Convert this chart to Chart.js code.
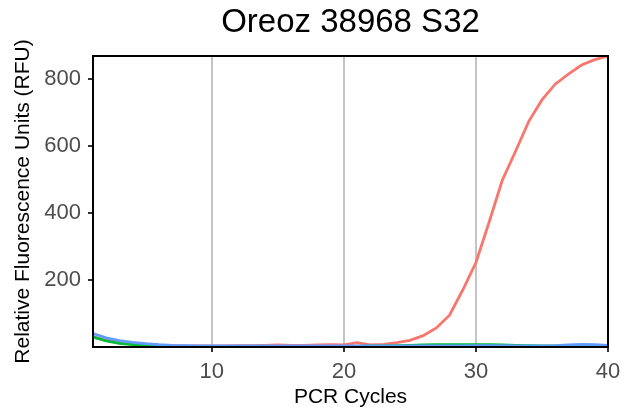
<!DOCTYPE html>
<html lang="en">
<head>
    <meta charset="UTF-8">
    <title>Oreoz 38968 S32</title>
    <style>
        body { margin: 0; background: #fff; }
    </style>
</head>
<body>
    <canvas id="pcrCanvas" width="632" height="416"></canvas>

    <script src="https://cdn.jsdelivr.net/npm/chart.js"></script>
    <script>
        var cycles = [1, 2, 3, 4, 5, 6, 7, 8, 9, 10, 11, 12, 13, 14, 15, 16, 17, 18, 19, 20,
                      21, 22, 23, 24, 25, 26, 27, 28, 29, 30, 31, 32, 33, 34, 35, 36, 37, 38, 39, 40];
        var redRFU = [30, 20, 14, 10, 7, 5, 4, 3, 3, 3, 3, 4, 4, 5, 6, 5, 5, 6, 7, 6,
                      13, 6, 8, 13, 20, 34, 57, 95, 170, 252, 373, 498, 584, 673, 737, 784, 814, 841, 857, 868];
        var greenRFU = [30, 18, 11, 7, 5, 3, 2, 2, 2, 2, 2, 2, 2, 2, 2, 2, 2, 2, 2, 2,
                        2, 3, 3, 4, 5, 6, 7, 7, 7, 7, 7, 6, 5, 4, 3, 3, 3, 3, 3, 3];
        var blueRFU = [40, 27, 19, 14, 10, 7, 5, 4, 3, 3, 3, 3, 3, 3, 3, 3, 3, 3, 3, 3,
                       3, 3, 3, 3, 3, 3, 3, 3, 3, 4, 4, 4, 3, 3, 3, 4, 6, 8, 7, 5];
        var xTicks = [10, 20, 30, 40];
        var yTicks = [200, 400, 600, 800];

        function toPoints(vals) {
            return cycles.map(function(c, i) { return {x: c, y: vals[i]}; });
        }

        var panelBorder = {
            id: 'panelBorder',
            afterDatasetsDraw: function(chart) {
                var a = chart.chartArea, c = chart.ctx;
                c.save();
                c.strokeStyle = '#000';
                c.lineWidth = 2;
                c.strokeRect(a.left, a.top, a.right - a.left, a.bottom - a.top);
                c.restore();
            }
        };

        var ctx = document.getElementById('pcrCanvas').getContext('2d');
        var pcrChart = new Chart(ctx, {
            type: 'line',
            data: {
                datasets: [
                    { data: toPoints(redRFU), borderColor: '#F8766D', order: 3 },
                    { data: toPoints(greenRFU), borderColor: '#00BA38', order: 2 },
                    { data: toPoints(blueRFU), borderColor: '#619CFF', order: 1 }
                ]
            },
            plugins: [panelBorder],
            options: {
                responsive: false,
                animation: false,
                layout: { padding: { left: 0, right: 24, top: 0, bottom: 0 } },
                elements: {
                    point: { radius: 0 },
                    line: { borderWidth: 2.8, tension: 0 }
                },
                plugins: {
                    legend: { display: false },
                    tooltip: { enabled: false },
                    title: {
                        display: true,
                        text: 'Oreoz 38968 S32',
                        fullSize: false,
                        color: '#000',
                        font: { family: 'Liberation Sans', size: 33, weight: 'normal', lineHeight: 1 },
                        padding: { top: 6, bottom: 17 }
                    }
                },
                scales: {
                    x: {
                        type: 'linear',
                        min: 1,
                        max: 40,
                        afterBuildTicks: function(s) { s.ticks = xTicks.map(function(v) { return {value: v}; }); },
                        afterFit: function(s) { s.height = 69; },
                        grid: { color: '#c4c4c4', lineWidth: 2, tickColor: '#333', tickLength: 5 },
                        border: { color: '#000', width: 2 },
                        ticks: { color: '#4d4d4d', padding: 7, maxRotation: 0,
                                 font: { family: 'Liberation Sans', size: 22 } },
                        title: { display: true, text: 'PCR Cycles', color: '#000',
                                 font: { family: 'Liberation Sans', size: 21 },
                                 padding: { top: 2, bottom: 6 } }
                    },
                    y: {
                        type: 'linear',
                        min: 0,
                        max: 868,
                        afterBuildTicks: function(s) { s.ticks = yTicks.map(function(v) { return {value: v}; }); },
                        afterFit: function(s) { s.width = 93; },
                        grid: { drawOnChartArea: false, tickColor: '#333', tickLength: 5, lineWidth: 2 },
                        border: { color: '#000', width: 2 },
                        ticks: { color: '#4d4d4d', padding: 7,
                                 font: { family: 'Liberation Sans', size: 22 } },
                        title: { display: true, text: 'Relative Fluorescence Units (RFU)', color: '#000',
                                 font: { family: 'Liberation Sans', size: 21 },
                                 padding: { top: 11, bottom: 0 } }
                    }
                }
            }
        });
    </script>
</body>
</html>
